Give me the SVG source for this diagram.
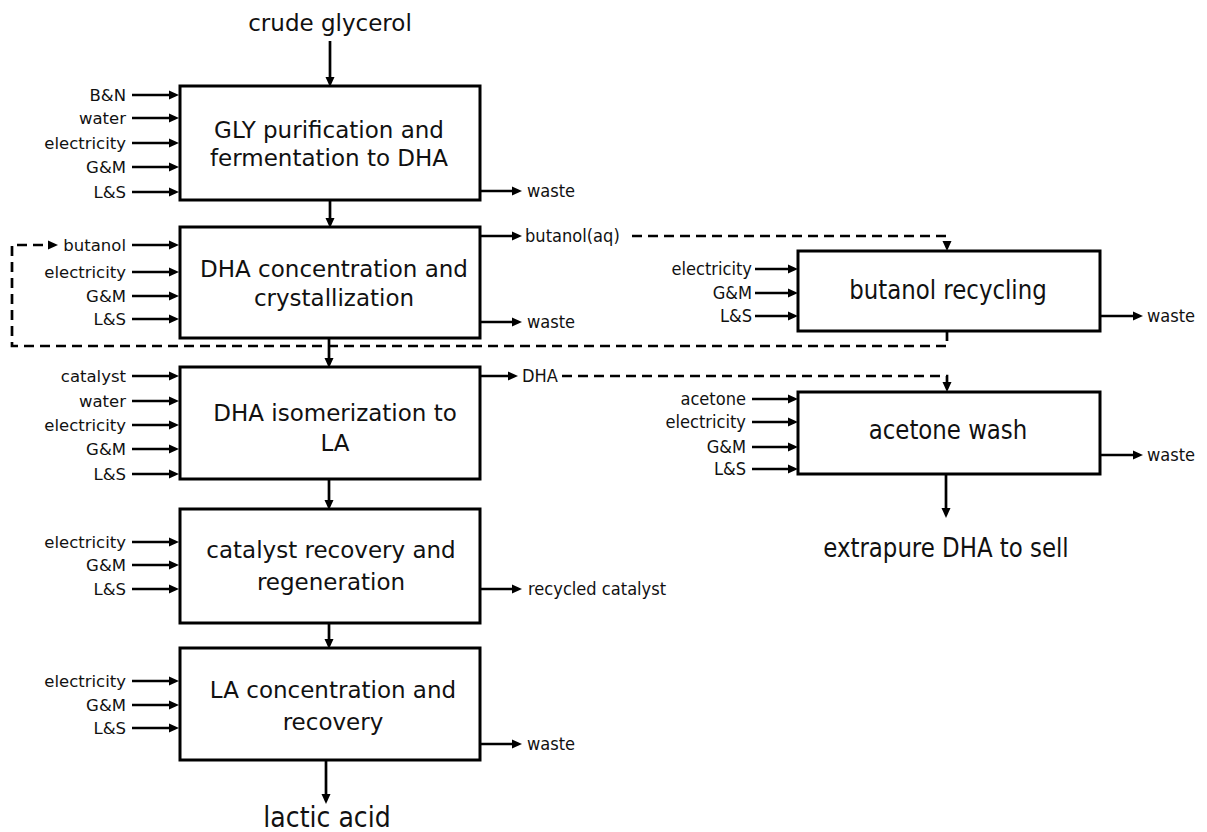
<svg xmlns="http://www.w3.org/2000/svg" width="1207" height="832" viewBox="0 0 1207 832">
  <defs>
    <marker id="head" viewBox="0 0 10 10" refX="5" refY="5" markerWidth="11" markerHeight="10" markerUnits="userSpaceOnUse" orient="auto">
      <path d="M0,0.5 L10,5 L0,9.5 z" fill="#000"/>
    </marker>
    <style>
      .box { fill: #fff; stroke: #000; stroke-width: 3; }
      .title { font-family: "DejaVu Sans", sans-serif; font-size: 23px; fill: #111; text-anchor: middle; }
      .ctitle { font-family: "DejaVu Sans", sans-serif; font-size: 26px; fill: #111; text-anchor: middle; }
      .lbl { font-family: "DejaVu Sans", sans-serif; font-size: 16.5px; fill: #111; text-anchor: end; }
      .clbl { font-family: "DejaVu Sans", sans-serif; font-size: 18.5px; fill: #111; text-anchor: end; }
      .out { font-family: "DejaVu Sans", sans-serif; font-size: 18.5px; fill: #111; text-anchor: start; }
      .flow { stroke: #000; stroke-width: 2.7; fill: none; marker-end: url(#head); }
      .dashA { stroke: #000; stroke-width: 2.7; fill: none; stroke-dasharray: 10 6; marker-end: url(#head); }
    </style>
  </defs>

  <!-- feed and product labels -->
  <text class="title" x="330" y="31">crude glycerol</text>
  <text class="ctitle" transform="translate(946,557) scale(0.88,1)">extrapure DHA to sell</text>
  <text class="ctitle" style="font-size:28px" transform="translate(327,827) scale(0.9,1)">lactic acid</text>

  <!-- process units -->
  <g id="gly-purification">
    <rect class="box" x="180" y="86" width="300" height="114"/>
    <text class="title" x="329" y="138">GLY purification and</text>
    <text class="title" x="329" y="166">fermentation to DHA</text>
  </g>
  <g id="dha-concentration">
    <rect class="box" x="180" y="227" width="300" height="111"/>
    <text class="title" x="334" y="277">DHA concentration and</text>
    <text class="title" x="334" y="306">crystallization</text>
  </g>
  <g id="dha-isomerization">
    <rect class="box" x="180" y="367" width="300" height="112"/>
    <text class="title" x="335" y="421">DHA isomerization to</text>
    <text class="title" x="335" y="451">LA</text>
  </g>
  <g id="catalyst-recovery">
    <rect class="box" x="180" y="509" width="300" height="114"/>
    <text class="title" x="331" y="558">catalyst recovery and</text>
    <text class="title" x="331" y="590">regeneration</text>
  </g>
  <g id="la-concentration">
    <rect class="box" x="180" y="648" width="300" height="112"/>
    <text class="title" x="333" y="698">LA concentration and</text>
    <text class="title" x="333" y="730">recovery</text>
  </g>
  <g id="butanol-recycling">
    <rect class="box" x="798" y="251" width="302" height="80"/>
    <text class="ctitle" transform="translate(948,299) scale(0.88,1)">butanol recycling</text>
  </g>
  <g id="acetone-wash">
    <rect class="box" x="798" y="392" width="302" height="82"/>
    <text class="ctitle" transform="translate(948,439) scale(0.88,1)">acetone wash</text>
  </g>

  <!-- utility and material input labels -->
  <g id="input-labels">
    <text class="lbl" x="126" y="101">B&amp;N</text>
    <text class="lbl" x="126" y="124">water</text>
    <text class="lbl" x="126" y="149">electricity</text>
    <text class="lbl" x="126" y="173">G&amp;M</text>
    <text class="lbl" x="126" y="198">L&amp;S</text>

    <text class="lbl" x="126" y="251">butanol</text>
    <text class="lbl" x="126" y="278">electricity</text>
    <text class="lbl" x="126" y="302">G&amp;M</text>
    <text class="lbl" x="126" y="325">L&amp;S</text>

    <text class="lbl" x="126" y="382">catalyst</text>
    <text class="lbl" x="126" y="407">water</text>
    <text class="lbl" x="126" y="431">electricity</text>
    <text class="lbl" x="126" y="455">G&amp;M</text>
    <text class="lbl" x="126" y="480">L&amp;S</text>

    <text class="lbl" x="126" y="548">electricity</text>
    <text class="lbl" x="126" y="571">G&amp;M</text>
    <text class="lbl" x="126" y="595">L&amp;S</text>

    <text class="lbl" x="126" y="687">electricity</text>
    <text class="lbl" x="126" y="711">G&amp;M</text>
    <text class="lbl" x="126" y="734">L&amp;S</text>

    <text class="clbl" transform="translate(752,275) scale(0.88,1)">electricity</text>
    <text class="clbl" transform="translate(752,299) scale(0.88,1)">G&amp;M</text>
    <text class="clbl" transform="translate(752,322) scale(0.88,1)">L&amp;S</text>

    <text class="clbl" transform="translate(746,405) scale(0.88,1)">acetone</text>
    <text class="clbl" transform="translate(746,428) scale(0.88,1)">electricity</text>
    <text class="clbl" transform="translate(746,453) scale(0.88,1)">G&amp;M</text>
    <text class="clbl" transform="translate(746,475) scale(0.88,1)">L&amp;S</text>
  </g>

  <!-- output stream labels -->
  <g id="output-labels">
    <text class="out" transform="translate(527,197) scale(0.88,1)">waste</text>
    <text class="out" transform="translate(525,242) scale(0.88,1)">butanol(aq)</text>
    <text class="out" transform="translate(527,328) scale(0.88,1)">waste</text>
    <text class="out" transform="translate(522,382) scale(0.88,1)">DHA</text>
    <text class="out" transform="translate(528,595) scale(0.88,1)">recycled catalyst</text>
    <text class="out" transform="translate(527,750) scale(0.88,1)">waste</text>
    <text class="out" transform="translate(1147,322) scale(0.88,1)">waste</text>
    <text class="out" transform="translate(1147,461) scale(0.88,1)">waste</text>
  </g>

  <!-- connectors -->
  <g id="connectors">
    <!-- main line -->
    <line class="flow" x1="330" y1="41" x2="330" y2="82"/>
    <line class="flow" x1="330" y1="200" x2="330" y2="223"/>
    <line class="flow" x1="329" y1="338" x2="329" y2="363"/>
    <line class="flow" x1="329" y1="479" x2="329" y2="505"/>
    <line class="flow" x1="329" y1="623" x2="329" y2="644"/>
    <line class="flow" x1="326" y1="760" x2="326" y2="799"/>
    <line class="flow" x1="946" y1="474" x2="946" y2="513"/>

    <!-- inputs, GLY purification -->
    <line class="flow" x1="132" y1="95" x2="174" y2="95"/>
    <line class="flow" x1="132" y1="118" x2="174" y2="118"/>
    <line class="flow" x1="132" y1="143" x2="174" y2="143"/>
    <line class="flow" x1="132" y1="167" x2="174" y2="167"/>
    <line class="flow" x1="132" y1="192" x2="174" y2="192"/>
    <!-- inputs, DHA concentration -->
    <line class="flow" x1="132" y1="245" x2="174" y2="245"/>
    <line class="flow" x1="132" y1="272" x2="174" y2="272"/>
    <line class="flow" x1="132" y1="296" x2="174" y2="296"/>
    <line class="flow" x1="132" y1="319" x2="174" y2="319"/>
    <!-- inputs, DHA isomerization -->
    <line class="flow" x1="132" y1="376" x2="174" y2="376"/>
    <line class="flow" x1="132" y1="401" x2="174" y2="401"/>
    <line class="flow" x1="132" y1="425" x2="174" y2="425"/>
    <line class="flow" x1="132" y1="449" x2="174" y2="449"/>
    <line class="flow" x1="132" y1="474" x2="174" y2="474"/>
    <!-- inputs, catalyst recovery -->
    <line class="flow" x1="132" y1="542" x2="174" y2="542"/>
    <line class="flow" x1="132" y1="565" x2="174" y2="565"/>
    <line class="flow" x1="132" y1="589" x2="174" y2="589"/>
    <!-- inputs, LA concentration -->
    <line class="flow" x1="132" y1="681" x2="174" y2="681"/>
    <line class="flow" x1="132" y1="705" x2="174" y2="705"/>
    <line class="flow" x1="132" y1="728" x2="174" y2="728"/>
    <!-- inputs, butanol recycling -->
    <line class="flow" x1="755" y1="269" x2="793" y2="269"/>
    <line class="flow" x1="755" y1="293" x2="793" y2="293"/>
    <line class="flow" x1="755" y1="316" x2="793" y2="316"/>
    <!-- inputs, acetone wash -->
    <line class="flow" x1="752" y1="399" x2="793" y2="399"/>
    <line class="flow" x1="752" y1="422" x2="793" y2="422"/>
    <line class="flow" x1="752" y1="447" x2="793" y2="447"/>
    <line class="flow" x1="752" y1="469" x2="793" y2="469"/>

    <!-- outputs -->
    <line class="flow" x1="480" y1="191" x2="517" y2="191"/>
    <line class="flow" x1="480" y1="236" x2="517" y2="236"/>
    <line class="flow" x1="480" y1="322" x2="517" y2="322"/>
    <line class="flow" x1="480" y1="376" x2="513" y2="376"/>
    <line class="flow" x1="480" y1="589" x2="517" y2="589"/>
    <line class="flow" x1="480" y1="744" x2="517" y2="744"/>
    <line class="flow" x1="1100" y1="316" x2="1138" y2="316"/>
    <line class="flow" x1="1100" y1="455" x2="1138" y2="455"/>

    <!-- recycle streams -->
    <path class="dashA" d="M632,236 H947 V246"/>
    <path class="dashA" d="M562,376 H947 V387"/>
    <path class="dashA" d="M947,331 V346 H12 V245 H53"/>
  </g>
</svg>
